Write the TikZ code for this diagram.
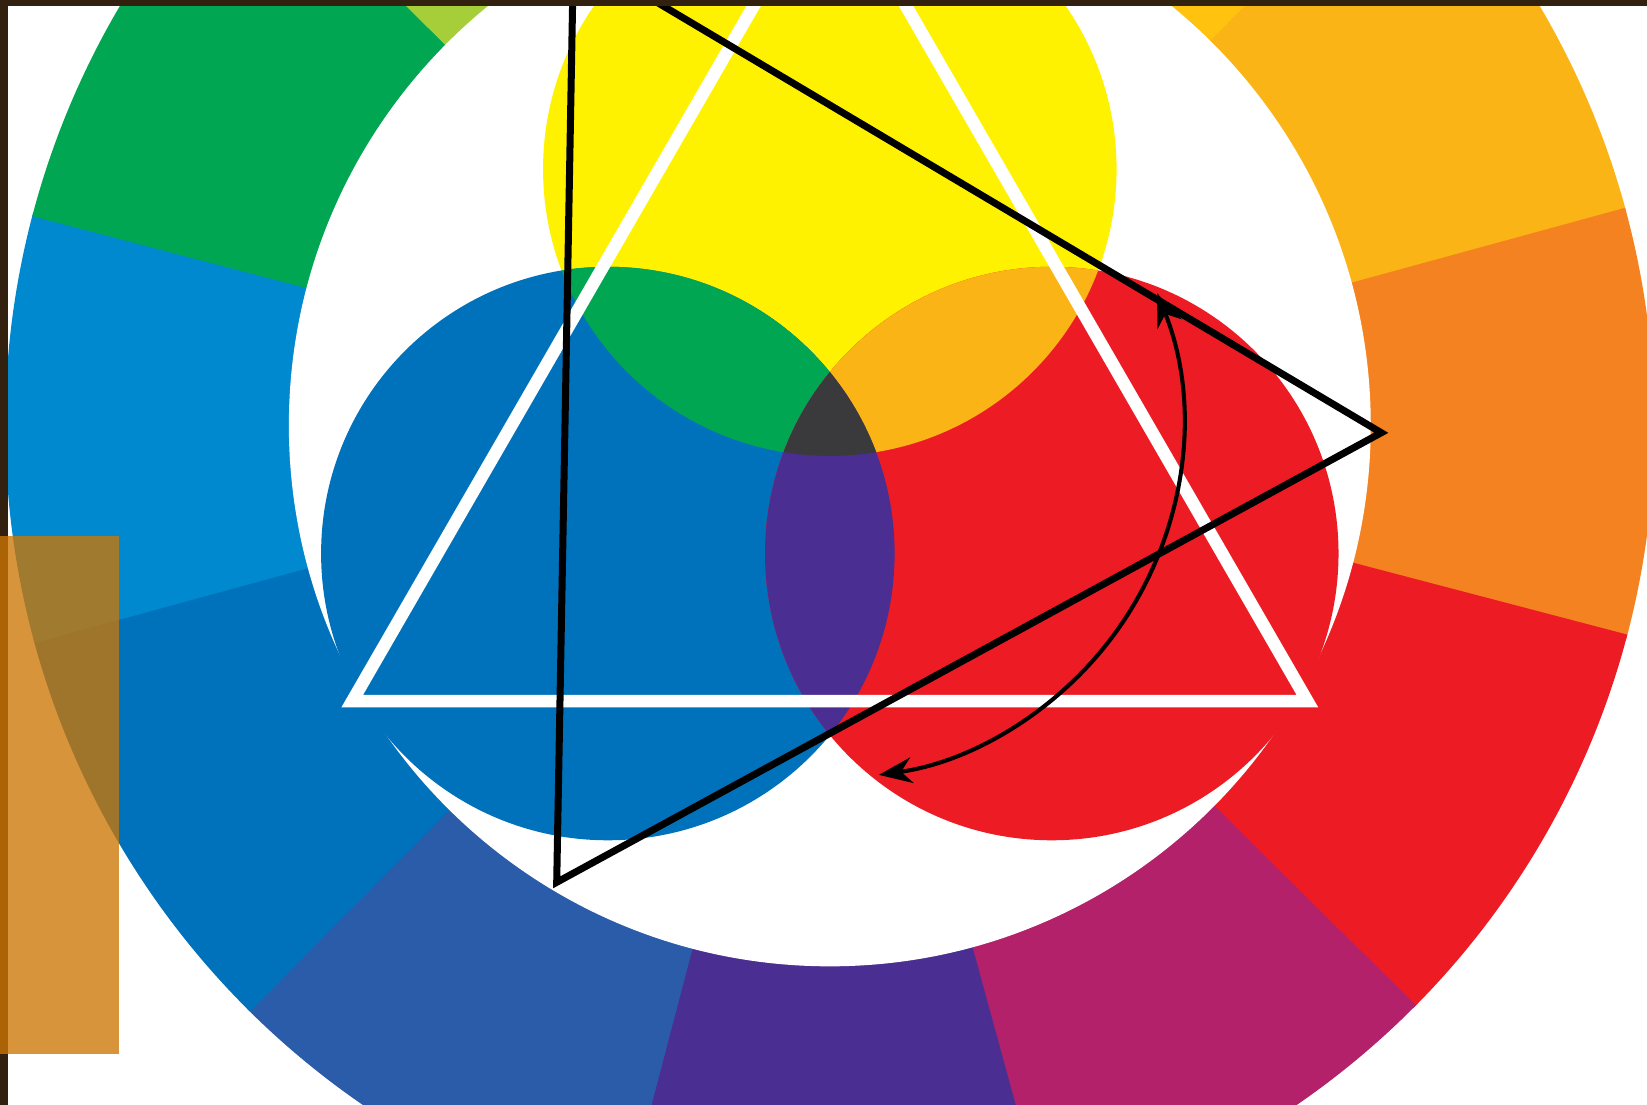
\documentclass[tikz,border=0pt]{standalone}
\usetikzlibrary{arrows.meta}
\definecolor{cyel}{HTML}{FFF200}
\definecolor{cyelor}{HTML}{FFC20E}
\definecolor{cyor}{HTML}{FBB416}
\definecolor{corange}{HTML}{F58220}
\definecolor{cred}{HTML}{ED1C24}
\definecolor{cmagenta}{HTML}{B3216B}
\definecolor{cviolet}{HTML}{4B2E91}
\definecolor{croyal}{HTML}{2A5CAA}
\definecolor{cblue}{HTML}{0072BC}
\definecolor{clblue}{HTML}{0089CF}
\definecolor{cgreen}{HTML}{00A651}
\definecolor{cyg}{HTML}{A6CE39}
\definecolor{cdark}{HTML}{3A393B}
\definecolor{frame}{HTML}{33210F}
\definecolor{tab}{RGB}{205,118,3}
\begin{document}
\begin{tikzpicture}
[line join=miter,
 whitetri/.style={draw=white, line width=3.4pt},
 blacktri/.style={draw=black, line width=1.9pt},
 turn/.style={draw=black, line width=1.1pt, {Stealth[length=9pt,width=7pt]}-{Stealth[length=9pt,width=7pt]}}]
\def \cx {7.90}
\def \cy {6.47}
\def \rout {7.85}
\def \rin {5.15}
\def \rdot {2.73} % radius of the three primaries
\useasboundingbox (0,0) rectangle (15.68,10.52);
\clip (0,0) rectangle (15.68,10.52);
\coordinate (O) at (\cx,\cy);
\foreach \a/\c in {75/cyel, 45/cyelor, 15/cyor, -15/corange, -45/cred, -75/cmagenta,
  -105/cviolet, -135/croyal, -165/cblue, 165/clblue, 135/cgreen, 105/cyg}
{
  \fill[\c] (O) -- ++(\a:\rout) arc[start angle=\a, end angle=\a+30.3, radius=\rout] -- cycle;
}
\fill[white] (O) circle[radius=\rin];
\path (O) ++(90:2.44) coordinate (Y) (O) ++(210:2.44) coordinate (B) (O) ++(330:2.44) coordinate (R);
\fill[cyel] (Y) circle[radius=\rdot];
\fill[cblue] (B) circle[radius=\rdot];
\fill[cred] (R) circle[radius=\rdot];
\begin{scope}
  \clip (Y) circle[radius=\rdot];
  \fill[cgreen] (B) circle[radius=\rdot];
  \fill[cyor] (R) circle[radius=\rdot];
\end{scope}
\begin{scope}
  \clip (B) circle[radius=\rdot];
  \fill[cviolet] (R) circle[radius=\rdot];
  \clip (R) circle[radius=\rdot];
  \fill[cdark] (Y) circle[radius=\rdot];
\end{scope}
\path (O) ++(90:5.25) coordinate (w1) (O) ++(210:5.25) coordinate (w2) (O) ++(330:5.25) coordinate (w3);
\draw[whitetri] (w1) -- (w2) -- (w3) -- cycle;
\coordinate (t1) at (13.15,6.40);
\coordinate (t2) at (5.30,2.12);
\coordinate (t3) at (5.46,10.97);
\draw[blacktri] (t1) -- (t2) -- (t3) -- cycle;
\draw[turn] (O) ++(22:3.36) arc[start angle=22, end angle=-82, radius=3.36];
\fill[frame] (0,0) rectangle (0.08,10.52);
\fill[frame] (0,10.46) rectangle (15.68,10.52);
\fill[tab, opacity=0.78] (0,0.49) rectangle (1.13,5.42);
\end{tikzpicture}
\end{document}
